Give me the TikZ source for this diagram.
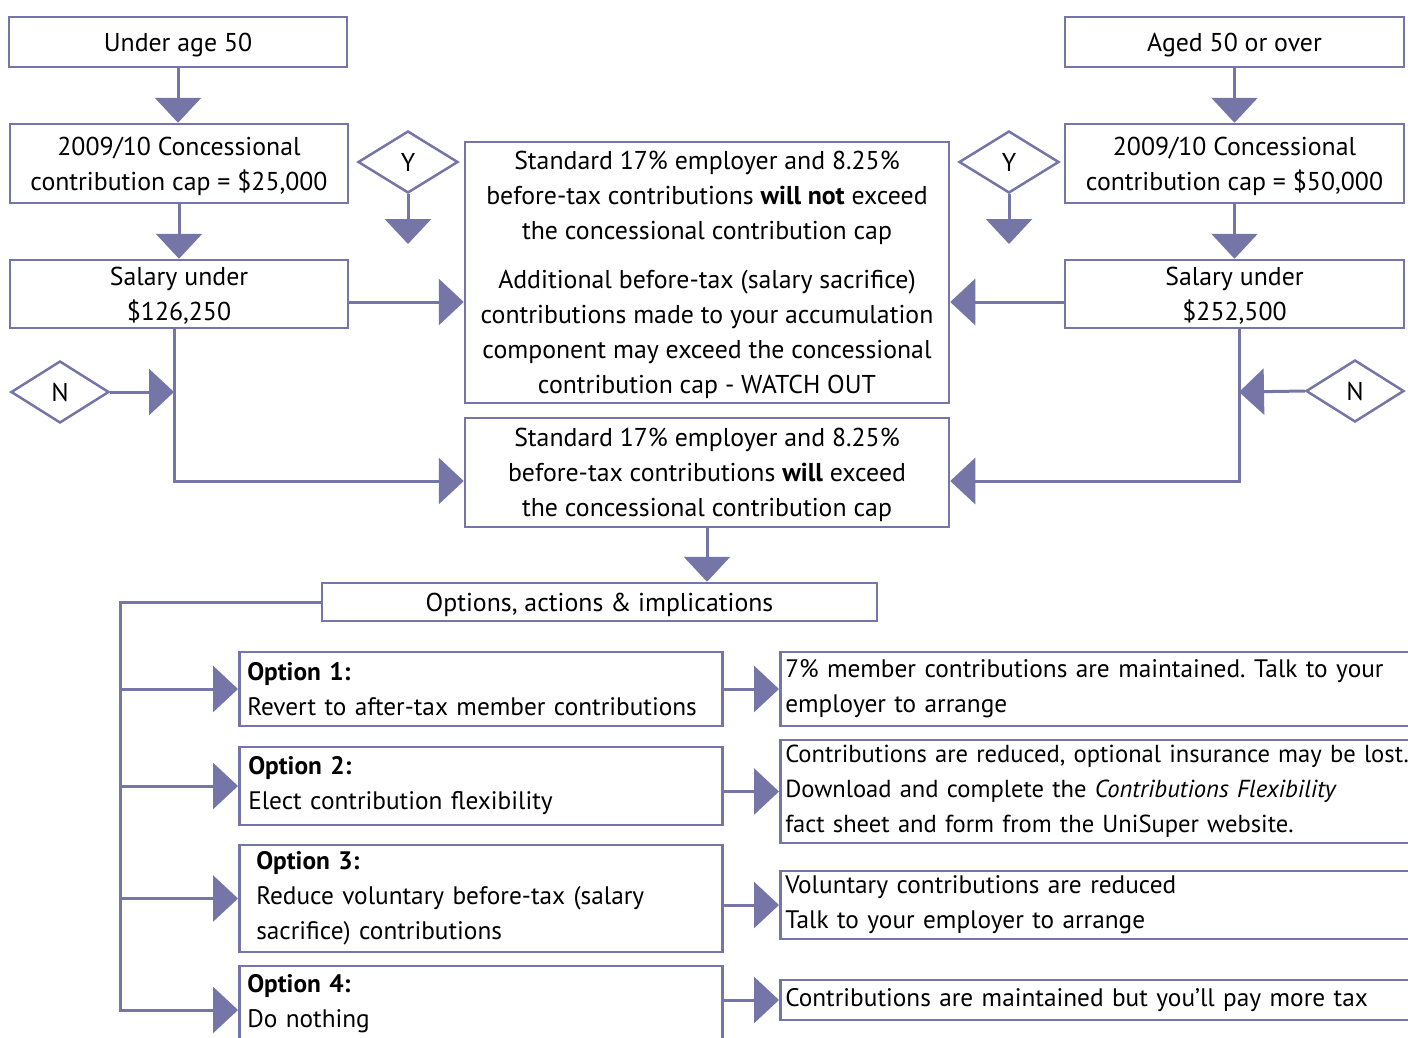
\documentclass[tikz,border=0pt]{standalone}
\usepackage{fontspec}
\setmainfont{PT Sans}
\usetikzlibrary{arrows.meta,shapes.geometric}
\definecolor{pc}{RGB}{117,117,168}
\newcommand\fsz{\fontsize{25.8}{35}\selectfont\frenchspacing}
\newcommand\lsz{\fontsize{25.3}{35}\selectfont\frenchspacing}
\tikzset{
  box/.style={draw=pc, line width=2.5pt, inner sep=0pt, align=center, font=\fsz, text=black, text depth=0pt},
  lbox/.style={draw=pc, line width=2.5pt, inner ysep=0pt, inner xsep=#1, align=left, font=\lsz, text=black, anchor=west},
  dia/.style={diamond, draw=pc, line width=2.5pt, inner sep=0pt, minimum width=100pt, minimum height=62pt, font=\fsz},
  ln/.style={draw=pc, line width=3pt},
  arr/.style={draw=pc, line width=3pt, -{Triangle[width=46pt,length=25pt]}},
}
\begin{document}
\begin{tikzpicture}[x=1pt,y=-1pt]
\useasboundingbox (0,0) rectangle (1408,1037);
\fill[white] (0,0) rectangle (1408,1037);
\clip (0,0) rectangle (1408,1037);

% left column
\node[box, minimum width=338pt, minimum height=50pt] (u50) at (178,42) {Under age 50};
\node[box, minimum width=338pt, minimum height=79pt] (capL) at (179,163.5) {2009/10 Concessional\\contribution cap = \$25,000};
\node[box, minimum width=338pt, minimum height=68pt] (salL) at (179,294) {Salary under\\\$126,250};
% right column
\node[box, minimum width=339pt, minimum height=50pt] (a50) at (1234.5,42) {Aged 50 or over};
\node[box, minimum width=339pt, minimum height=79pt] (capR) at (1234.5,163.5) {2009/10 Concessional\\contribution cap = \$50,000};
\node[box, minimum width=339pt, minimum height=68pt] (salR) at (1234.5,294) {Salary under\\\$252,500};
% centre
\node[box, minimum width=484pt, minimum height=261pt] (c1) at (707,272.5) {Standard 17\% employer and 8.25\%\\before-tax contributions \textbf{will not} exceed\\the concessional contribution cap\\[14pt]Additional before-tax (salary sacrifice)\\contributions made to your accumulation\\component may exceed the concessional\\contribution cap - WATCH OUT};
\node[box, minimum width=484pt, minimum height=109pt] (c2) at (707,472.5) {Standard 17\% employer and 8.25\%\\before-tax contributions \textbf{will} exceed\\the concessional contribution cap};
% diamonds
\node[dia] (yL) at (408,162) {Y};
\node[dia] (yR) at (1009,162) {Y};
\node[dia, minimum width=98pt] (nL) at (60,392) {N};
\node[dia, minimum width=98pt] (nR) at (1355,391) {N};
% options
\node[box, minimum width=555pt, minimum height=38pt] (opt) at (599.5,602) {Options, actions \& implications};
\node[lbox=8pt, text width=467pt, minimum height=74pt] (o1) at (238,689) {\textbf{Option 1:}\\Revert to after-tax member contributions};
\node[lbox=9pt, text width=465pt, minimum height=78pt] (o2) at (238,786) {\textbf{Option 2:}\\Elect contribution flexibility};
\node[lbox=17pt, text width=449pt, minimum height=107pt] (o3) at (238,898.5) {\textbf{Option 3:}\\Reduce voluntary before-tax (salary\\sacrifice) contributions};
\node[lbox=8pt, text width=467pt, minimum height=76pt] (o4) at (238,1004) {\textbf{Option 4:}\\Do nothing};
% results
\node[lbox=5pt, text width=690pt, minimum height=74pt] (r1) at (779,689) {7\% member contributions are maintained. Talk to your\\employer to arrange};
\node[lbox=5pt, text width=690pt, minimum height=103pt, font=\fontsize{24.6}{35}\selectfont] (r2) at (779,791.5) {Contributions are reduced, optional insurance may be lost.\\Download and complete the \textit{Contributions Flexibility}\\fact sheet and form from the UniSuper website.};
\node[lbox=5pt, text width=690pt, minimum height=68pt] (r3) at (779,905) {Voluntary contributions are reduced\\Talk to your employer to arrange};
\node[lbox=5pt, text width=690pt, minimum height=40pt] (r4) at (779,1000) {Contributions are maintained but you’ll pay more tax};

% coordinates
\coordinate (yLe) at (408,244);
\coordinate (yRe) at (1009,244);
\coordinate (hA) at (0,302);
\coordinate (jL) at (174,392);
\coordinate (kL) at (174,481);
\coordinate (jR) at (1239,392);
\coordinate (kR) at (1239,481);
\coordinate (bx) at (120,0);
\coordinate (b4) at (120,1010);

% connectors
\draw[arr] (u50.south) -- (u50.south |- capL.north);
\draw[arr] (capL.south) -- (capL.south |- salL.north);
\draw[arr] (a50.south) -- (a50.south |- capR.north);
\draw[arr] (capR.south) -- (capR.south |- salR.north);
\draw[arr] (yL.south) -- (yLe);
\draw[arr] (yR.south) -- (yRe);
\draw[arr] (salL.east |- hA) -- (c1.west |- hA);
\draw[arr] (salR.west |- hA) -- (c1.east |- hA);
\draw[arr] (salL.south -| jL) -- (kL) -- (kL -| c2.west);
\draw[arr] (salR.south -| jR) -- (kR) -- (kR -| c2.east);
\draw[arr] (nL.east) -- (jL);
\draw[arr] (nR.west) -- (jR);
\draw[arr] (c2.south) -- (c2.south |- opt.north);
\draw[arr] (opt.west) -| (b4) -- (b4 -| o4.west);
\draw[arr] (o1.west -| bx) -- (o1.west);
\draw[arr] (o2.west -| bx) -- (o2.west);
\draw[arr] (o3.west -| bx) -- (o3.west);
\draw[arr] (o1.east |- r1.west) -- (r1.west);
\draw[arr] (o2.east |- r2.west) -- (r2.west);
\draw[arr] (o3.east |- r3.west) -- (r3.west);
\draw[arr] (o4.east |- r4.west) -- (r4.west);
\end{tikzpicture}
\end{document}
